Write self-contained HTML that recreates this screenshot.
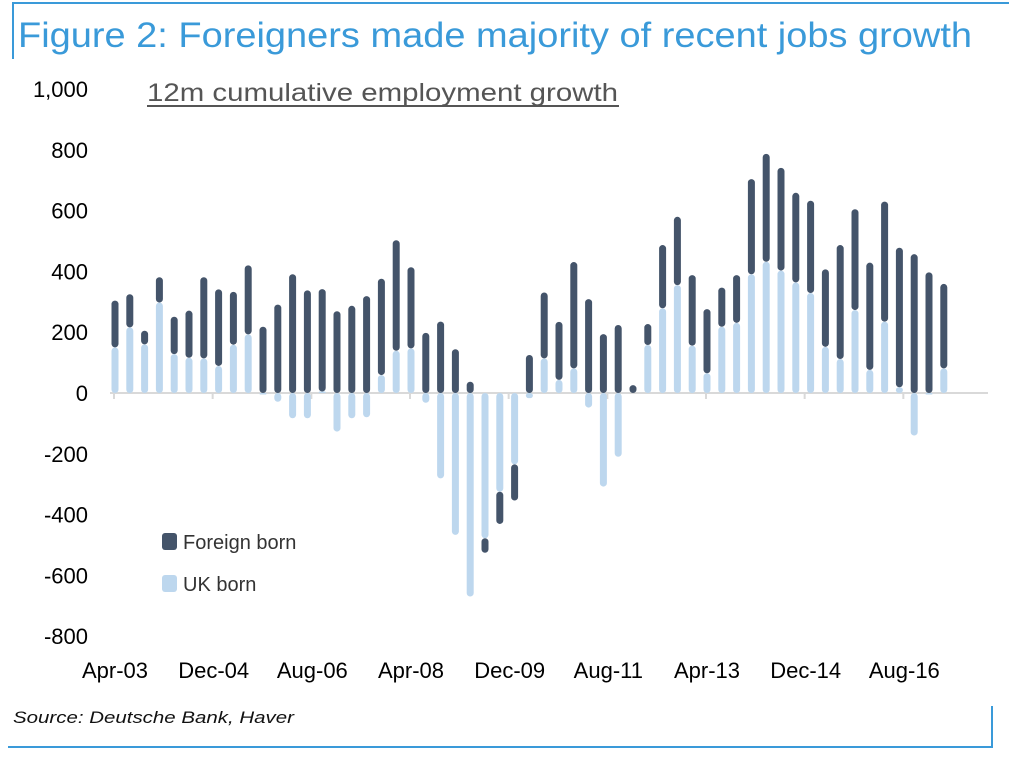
<!DOCTYPE html>
<html><head><meta charset="utf-8"><style>
html,body{margin:0;padding:0;background:#fff;}
svg{display:block;font-family:"Liberation Sans",Arial,sans-serif;}
</style></head><body>
<svg id="chart" width="1009" height="757" viewBox="0 0 1009 757" xmlns="http://www.w3.org/2000/svg">
<line x1="12" y1="3" x2="1009" y2="3" stroke="#3a9ad9" stroke-width="2"/>
<line x1="13" y1="2" x2="13" y2="59" stroke="#3a9ad9" stroke-width="2"/>
<line x1="8" y1="747" x2="993" y2="747" stroke="#3a9ad9" stroke-width="2"/>
<line x1="992" y1="706" x2="992" y2="748" stroke="#3a9ad9" stroke-width="2"/>
<text x="18" y="47" font-size="35" fill="#3a9ad9" textLength="954" lengthAdjust="spacingAndGlyphs">Figure 2: Foreigners made majority of recent jobs growth</text>
<text x="147" y="101" font-size="25" fill="#555" textLength="471" lengthAdjust="spacingAndGlyphs">12m cumulative employment growth</text>
<line x1="147" y1="106" x2="619" y2="106" stroke="#555" stroke-width="2"/>
<line x1="110" y1="393" x2="988" y2="393" stroke="#d9d9d9" stroke-width="2"/>
<g id="ticks"></g>
<g id="bars"></g>
<g id="ylabels"></g>
<g id="xlabels"></g>
<rect x="162" y="533" width="15" height="17" rx="3" fill="#44546a"/>
<text x="183" y="549" font-size="20" fill="#333">Foreign born</text>
<rect x="162" y="575" width="15" height="17" rx="3" fill="#bdd7ee"/>
<text x="183" y="591" font-size="20" fill="#333">UK born</text>
<text x="13" y="723" font-size="17" font-style="italic" fill="#111" textLength="281" lengthAdjust="spacingAndGlyphs">Source: Deutsche Bank, Haver</text>
</svg>
<script>
const ukBorn = [150,216,160,298,128,116,114,89,159,193,-5,-29,-83,-83,5,-127,-83,-80,59,139,147,-32,-281,-467,-670,-478,-325,-235,-17,114,43,81,-48,-308,-210,0,158,279,355,156,65,218,231,391,432,403,364,329,152,112,273,76,235,19,-140,-5,81];
const foreignBorn = [154,109,45,83,123,155,267,252,174,227,218,291,391,338,337,269,287,319,317,364,267,198,235,144,37,-48,-106,-119,125,217,191,350,309,194,224,26,69,208,225,232,211,129,157,313,355,338,295,304,255,375,332,353,395,459,457,397,278];
const yTicks = [1000,800,600,400,200,0,-200,-400,-600,-800];
const yTickLabels = ["1,000","800","600","400","200","0","-200","-400","-600","-800"];
const xTickLabels = ["Apr-03","Dec-04","Aug-06","Apr-08","Dec-09","Aug-11","Apr-13","Dec-14","Aug-16"];

const NS = "http://www.w3.org/2000/svg";
const y0 = 393, pxPerUnit = 0.3038;
const yScale = v => y0 - v * pxPerUnit;
const x0 = 115, step = 14.8;
const xScale = i => x0 + i * step;
const bw = 7;
function mk(tag, attrs){ const e=document.createElementNS(NS,tag); for(const k in attrs) e.setAttribute(k,attrs[k]); return e; }

const bars = document.getElementById('bars');
function bar(i, a, b, color, name){
  const top = Math.min(yScale(a), yScale(b)), h = Math.abs(yScale(a)-yScale(b));
  if (h <= 0) return;
  const r = mk('rect', {x: xScale(i)-bw/2, y: top, width: bw, height: h, rx: Math.min(3.5,h/2), fill: color});
  
  
  bars.appendChild(r);
}
for (let i=0;i<ukBorn.length;i++){
  let pos=0, neg=0;
  const u=ukBorn[i], f=foreignBorn[i];
  if (u>=0){ bar(i,0,u,'#bdd7ee','bar-uk-born'); pos=u; } else { bar(i,0,u,'#bdd7ee','bar-uk-born'); neg=u; }
  if (f>=0){ bar(i,pos,pos+f,'#44546a','bar-foreign-born'); } else { bar(i,neg,neg+f,'#44546a','bar-foreign-born'); }
}
const yl = document.getElementById('ylabels');
yTicks.forEach((v,k)=>{
  const t = mk('text',{x:88,y:yScale(v)+8,'font-size':22,'text-anchor':'end',fill:'#000'});
  t.textContent = yTickLabels[k];
  
  
  yl.appendChild(t);
});
const xl = document.getElementById('xlabels'), tk = document.getElementById('ticks');
xTickLabels.forEach((s,k)=>{
  const x = xScale(k*20/3);
  const t = mk('text',{x:x,y:678,'font-size':22,'text-anchor':'middle',fill:'#000'});
  t.textContent = s;
  
  
  xl.appendChild(t);
  const l = mk('line',{x1:x-1,y1:393,x2:x-1,y2:399,stroke:'#d9d9d9','stroke-width':2});
  
  
  tk.appendChild(l);
});
</script>
</body></html>
